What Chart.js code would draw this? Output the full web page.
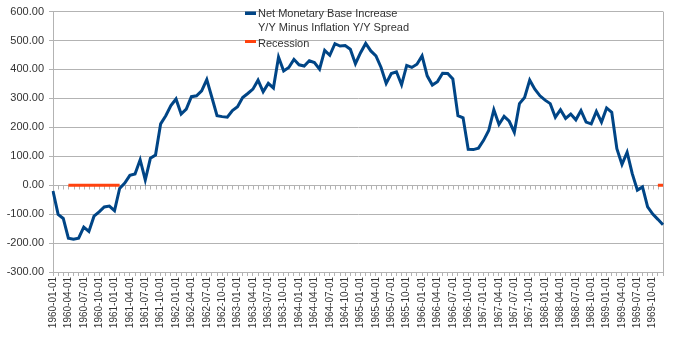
<!DOCTYPE html>
<html>
<head>
<meta charset="utf-8">
<script src="https://cdn.jsdelivr.net/npm/chart.js@4.4.1/dist/chart.umd.min.js"></script>
<style>
  html, body { margin: 0; padding: 0; background: #fff; }
  #wrap { width: 676px; height: 350px; }
</style>
</head>
<body>
<div id="wrap"><canvas id="spreadChart" width="676" height="350"></canvas></div>
<script>
// monthly observations, 1960-01 .. 1969-12
const months = [];
for (let y = 1960; y <= 1969; y++) {
  for (let m = 1; m <= 12; m++) {
    months.push(y + "-" + String(m).padStart(2, "0") + "-01");
  }
}

const spread = [
  -20, -101, -115, -183, -187, -183, -145, -160, -107, -92, -75, -72,
  -88, -11, 7, 34, 39, 88, 18, 93, 104, 212, 240, 275,
  298, 246, 263, 306, 309, 326, 365, 303, 240, 237, 235, 258,
  271, 303, 317, 332, 363, 323, 352, 336, 443, 395, 407, 435,
  416, 412, 430, 424, 401, 466, 449, 489, 481, 483, 470, 420,
  458, 490, 464, 447, 407, 352, 386, 392, 347, 414, 407, 418,
  447, 378, 346, 358, 387, 386, 367, 240, 233, 124, 123, 128,
  155, 189, 261, 210, 238, 221, 183, 282, 303, 363, 332, 309,
  294, 282, 235, 261, 231, 246, 226, 258, 218, 212, 255, 218,
  267, 252, 126, 72, 114, 40, -17, -6, -75, -100, -118, -137
];

const recessionMonths = [
  "1960-04-01", "1960-05-01", "1960-06-01", "1960-07-01", "1960-08-01", "1960-09-01",
  "1960-10-01", "1960-11-01", "1960-12-01", "1961-01-01", "1961-02-01",
  "1969-11-01", "1969-12-01"
];
const recessionLevel = 0;

const yTicks = [-300, -200, -100, 0, 100, 200, 300, 400, 500, 600];

const recession = months.map(d => recessionMonths.includes(d) ? recessionLevel : null);

const gridGray = "#b3b3b3";
const textColor = "#333333";
const font = "Liberation Sans";

// small month ticks along the zero line + right frame
const frameTicks = {
  id: "frameTicks",
  beforeDatasetsDraw(chart) {
    const { ctx, chartArea, scales } = chart;
    const x = scales.x, y = scales.y;
    const y0 = Math.round(y.getPixelForValue(0)) + 0.5;
    ctx.save();
    ctx.strokeStyle = gridGray;
    ctx.lineWidth = 1;
    ctx.beginPath();
    for (let i = 0; i < months.length; i++) {
      const px = Math.round(x.getPixelForValue(i)) + 0.5;
      ctx.moveTo(px, y0);
      ctx.lineTo(px, y0 + 4);
    }
    ctx.moveTo(Math.round(chartArea.right) + 0.5, chartArea.top);
    ctx.lineTo(Math.round(chartArea.right) + 0.5, chartArea.bottom);
    ctx.stroke();
    ctx.restore();
  }
};

// legend drawn by hand (two-line label)
const boxLegend = {
  id: "boxLegend",
  afterDatasetsDraw(chart) {
    const ctx = chart.ctx;
    ctx.save();
    ctx.fillStyle = "#004586";
    ctx.fillRect(245, 11.5, 11, 3.5);
    ctx.fillStyle = "#ff420e";
    ctx.fillRect(245, 40, 11, 3);
    ctx.fillStyle = textColor;
    ctx.font = "11px '" + font + "'";
    ctx.textBaseline = "middle";
    ctx.textAlign = "left";
    ctx.fillText("Net Monetary Base Increase", 258, 14);
    ctx.fillText("Y/Y Minus Inflation Y/Y Spread", 258, 27.5);
    ctx.fillText("Recession", 258, 43.5);
    ctx.restore();
  }
};

const spreadChart = new Chart(document.getElementById("spreadChart"), {
  type: "line",
  data: {
    labels: months,
    datasets: [
      {
        label: "Net Monetary Base Increase Y/Y Minus Inflation Y/Y Spread",
        data: spread,
        borderColor: "#004586",
        borderWidth: 3,
        pointRadius: 0,
        tension: 0,
        fill: false
      },
      {
        label: "Recession",
        data: recession,
        borderColor: "#ff420e",
        borderWidth: 3,
        pointRadius: 0,
        spanGaps: false,
        fill: false
      }
    ]
  },
  options: {
    responsive: false,
    animation: false,
    devicePixelRatio: 1,
    layout: { padding: { top: 10, right: 13, left: 0, bottom: 0 } },
    plugins: {
      legend: { display: false },
      tooltip: { enabled: false }
    },
    scales: {
      x: {
        offset: false,
        grid: { display: true, drawOnChartArea: false, color: gridGray, tickLength: 4, offset: false },
        border: { color: gridGray },
        ticks: {
          autoSkip: false,
          minRotation: 90,
          maxRotation: 90,
          padding: 1,
          color: textColor,
          font: { family: font, size: 10 },
          callback: function (v, i) { return i % 3 === 0 ? months[i] : ""; }
        },
        afterFit(scale) { scale.height = 78; }
      },
      y: {
        min: -300,
        max: 600,
        afterBuildTicks(scale) { scale.ticks = yTicks.map(v => ({ value: v })); },
        grid: { color: gridGray, tickLength: 4 },
        border: { color: gridGray },
        ticks: {
          padding: 5,
          color: textColor,
          font: { family: font, size: 11 },
          callback: v => v.toFixed(2)
        },
        afterFit(scale) { scale.width = 53; }
      }
    }
  },
  plugins: [frameTicks, boxLegend]
});
</script>
</body>
</html>
